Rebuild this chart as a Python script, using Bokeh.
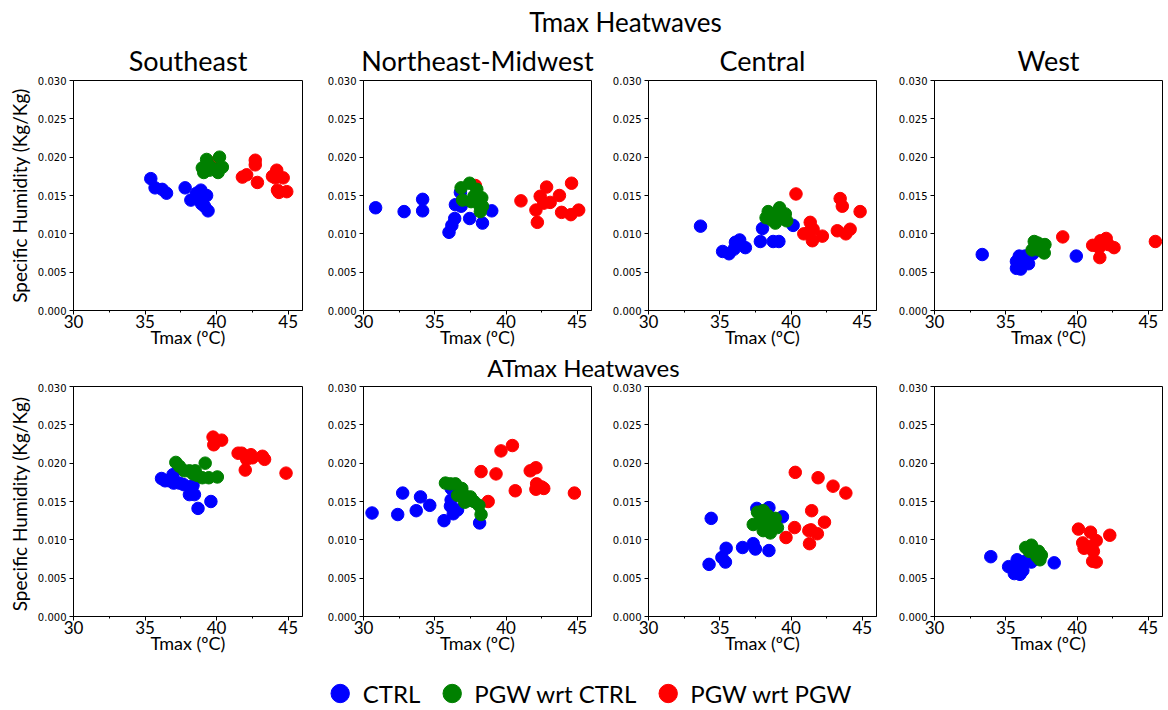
from bokeh.plotting import figure
from bokeh.layouts import column, row
from bokeh.models import Range1d, FixedTicker, PrintfTickFormatter, Legend, LegendItem
from bokeh.core.properties import value
from bokeh.embed import file_html
from bokeh.resources import INLINE

# ---------------- text / categories ----------------
regions = ["Southeast", "Northeast-Midwest", "Central", "West"]
row_titles = ["Tmax Heatwaves", "ATmax Heatwaves"]
series_labels = ["CTRL", "PGW wrt CTRL", "PGW wrt PGW"]
x_label = "Tmax (ºC)"
y_labels = ["Specific Humidity (Kg/Kg)", "Specific  Humidity (Kg/Kg)"]
x_ticks = [30, 35, 40, 45]
x_minor_ticks = [32.5, 37.5, 42.5]
y_ticks = [0.000, 0.005, 0.010, 0.015, 0.020, 0.025, 0.030]

# ---------------- Tmax heatwaves ----------------
tmax_se_ctrl_t = [35.4, 35.7, 36.2, 36.5, 37.8, 38.2, 38.6, 38.9, 38.7, 39.1, 39.3, 38.95, 39.15, 39.4]
tmax_se_ctrl_q = [0.0172, 0.0160, 0.0158, 0.0153, 0.0160, 0.0144, 0.0153, 0.0157, 0.0152, 0.0148, 0.0150, 0.0139, 0.0136, 0.0130]
tmax_se_pgwc_t = [39.3, 40.2, 39.1, 39.2, 39.5, 39.9, 40.1, 40.4, 39.0, 39.65, 39.4]
tmax_se_pgwc_q = [0.0197, 0.0200, 0.0180, 0.0188, 0.0183, 0.0184, 0.0180, 0.0187, 0.0186, 0.0186, 0.0191]
tmax_se_pgwp_t = [39.9, 41.8, 42.1, 42.7, 42.7, 42.85, 43.9, 44.2, 44.1, 44.65, 44.25, 44.35, 44.9]
tmax_se_pgwp_q = [0.0193, 0.0174, 0.0177, 0.0196, 0.0190, 0.0167, 0.0175, 0.0183, 0.0173, 0.0173, 0.0157, 0.0154, 0.0155]

tmax_ne_ctrl_t = [30.85, 32.85, 34.15, 34.15, 36.0, 36.2, 36.4, 36.45, 36.8, 36.85, 37.45, 38.35, 39.0]
tmax_ne_ctrl_q = [0.0134, 0.0129, 0.0145, 0.0130, 0.0102, 0.0111, 0.0120, 0.0138, 0.0154, 0.0136, 0.0120, 0.0114, 0.0130]
tmax_ne_pgwc_t = [36.85, 36.95, 37.45, 37.95, 37.75, 37.55, 38.0, 38.3, 38.15, 38.35, 38.2]
tmax_ne_pgwc_q = [0.0160, 0.0144, 0.0166, 0.0158, 0.0149, 0.0142, 0.0146, 0.0147, 0.0137, 0.0136, 0.0129]
tmax_ne_pgwp_t = [37.85, 41.05, 42.1, 42.2, 42.4, 42.85, 42.65, 43.1, 43.75, 43.9, 44.6, 44.55, 45.1]
tmax_ne_pgwp_q = [0.0163, 0.0143, 0.0131, 0.0115, 0.0149, 0.0161, 0.0140, 0.0141, 0.0150, 0.0128, 0.0166, 0.0125, 0.0131]

tmax_ce_ctrl_t = [33.65, 35.2, 35.65, 36.0, 36.1, 36.4, 36.8, 37.85, 38.0, 38.75, 39.15, 40.15, 38.95]
tmax_ce_ctrl_q = [0.0110, 0.0077, 0.0074, 0.0080, 0.0089, 0.0092, 0.0082, 0.0090, 0.0107, 0.0090, 0.0090, 0.0111, 0.0127]
tmax_ce_pgwc_t = [38.25, 38.4, 38.7, 38.9, 39.05, 39.2, 39.3, 39.6, 39.7, 38.65]
tmax_ce_pgwc_q = [0.0121, 0.0129, 0.0124, 0.0114, 0.0118, 0.0134, 0.0127, 0.0126, 0.0117, 0.0118]
tmax_ce_pgwp_t = [40.35, 40.9, 41.35, 41.55, 41.3, 41.5, 42.2, 43.25, 43.45, 43.6, 43.85, 44.15, 44.85]
tmax_ce_pgwp_q = [0.0152, 0.0100, 0.0115, 0.0106, 0.0103, 0.0091, 0.0097, 0.0104, 0.0146, 0.0136, 0.0100, 0.0106, 0.0129]

tmax_we_ctrl_t = [33.35, 39.95, 35.75, 35.95, 35.75, 36.05, 36.1, 36.35, 36.6, 36.55, 36.9]
tmax_we_ctrl_q = [0.0073, 0.0071, 0.0064, 0.0071, 0.0055, 0.0054, 0.0062, 0.0071, 0.0061, 0.0069, 0.0074]
tmax_we_pgwc_t = [37.0, 37.25, 36.85, 37.35, 37.7, 37.75, 37.6, 37.15]
tmax_we_pgwc_q = [0.0090, 0.0088, 0.0079, 0.0079, 0.0075, 0.0086, 0.0082, 0.0084]
tmax_we_pgwp_t = [39.0, 41.1, 41.55, 41.65, 42.05, 42.2, 42.6, 41.6, 45.5, 41.9]
tmax_we_pgwp_q = [0.0096, 0.0085, 0.0082, 0.0091, 0.0094, 0.0086, 0.0082, 0.0069, 0.0090, 0.0088]

# ---------------- ATmax heatwaves ----------------
atmax_se_ctrl_t = [36.15, 36.4, 36.95, 37.0, 37.4, 37.7, 38.35, 38.1, 38.45, 38.7, 39.6, 36.7]
atmax_se_ctrl_q = [0.0180, 0.0177, 0.0185, 0.0174, 0.0174, 0.0172, 0.0171, 0.0159, 0.0159, 0.0141, 0.0150, 0.0177]
atmax_se_pgwc_t = [37.15, 37.4, 37.75, 38.1, 38.5, 38.65, 39.0, 39.45, 39.2, 40.05, 38.35]
atmax_se_pgwc_q = [0.0201, 0.0196, 0.0190, 0.0190, 0.0190, 0.0184, 0.0181, 0.0181, 0.0200, 0.0182, 0.0186]
atmax_se_pgwp_t = [39.75, 39.8, 40.35, 41.5, 41.75, 42.1, 42.4, 42.5, 42.0, 43.2, 43.35, 44.85]
atmax_se_pgwp_q = [0.0234, 0.0224, 0.0230, 0.0213, 0.0213, 0.0205, 0.0211, 0.0207, 0.0191, 0.0209, 0.0205, 0.0187]

atmax_ne_ctrl_t = [30.6, 32.4, 32.75, 33.7, 34.0, 34.65, 35.65, 36.15, 36.15, 36.1, 36.3, 36.6, 38.15]
atmax_ne_ctrl_q = [0.0135, 0.0133, 0.0161, 0.0138, 0.0156, 0.0145, 0.0125, 0.0167, 0.0152, 0.0144, 0.0134, 0.0139, 0.0122]
atmax_ne_pgwc_t = [35.75, 36.1, 36.45, 36.6, 36.9, 36.95, 37.1, 37.5, 37.75, 38.1, 38.25, 37.3]
atmax_ne_pgwc_q = [0.0174, 0.0173, 0.0173, 0.0158, 0.0167, 0.0161, 0.0149, 0.0156, 0.0150, 0.0145, 0.0133, 0.0151]
atmax_ne_pgwp_t = [38.25, 38.75, 39.3, 39.65, 40.45, 40.65, 41.7, 42.1, 42.15, 42.1, 42.65, 44.8, 42.5]
atmax_ne_pgwp_q = [0.0189, 0.0150, 0.0186, 0.0216, 0.0223, 0.0164, 0.0190, 0.0194, 0.0173, 0.0166, 0.0167, 0.0161, 0.0169]

atmax_ce_ctrl_t = [34.4, 34.25, 35.15, 35.45, 35.4, 36.6, 37.35, 37.5, 37.6, 38.45, 38.45, 39.4]
atmax_ce_ctrl_q = [0.0128, 0.0068, 0.0077, 0.0089, 0.0071, 0.0090, 0.0095, 0.0088, 0.0141, 0.0142, 0.0086, 0.0130]
atmax_ce_pgwc_t = [37.35, 37.65, 38.05, 37.85, 38.05, 38.35, 38.35, 38.55, 38.9, 39.05, 38.45]
atmax_ce_pgwc_q = [0.0120, 0.0136, 0.0138, 0.0123, 0.0112, 0.0126, 0.0132, 0.0109, 0.0128, 0.0116, 0.0119]
atmax_ce_pgwp_t = [39.65, 40.25, 40.3, 41.3, 41.25, 41.45, 41.4, 41.85, 41.9, 42.35, 42.95, 43.85]
atmax_ce_pgwp_q = [0.0103, 0.0116, 0.0188, 0.0095, 0.0112, 0.0138, 0.0113, 0.0108, 0.0181, 0.0123, 0.0170, 0.0161]

atmax_we_ctrl_t = [33.95, 35.2, 35.6, 35.8, 36.0, 36.1, 36.2, 36.35, 36.8, 38.4, 35.5]
atmax_we_ctrl_q = [0.0078, 0.0065, 0.0056, 0.0074, 0.0055, 0.0065, 0.0060, 0.0072, 0.0071, 0.0070, 0.0064]
atmax_we_pgwc_t = [36.4, 36.8, 36.65, 37.0, 37.3, 37.4, 37.5, 37.2]
atmax_we_pgwc_q = [0.0090, 0.0093, 0.0085, 0.0083, 0.0085, 0.0074, 0.0080, 0.0078]
atmax_we_pgwp_t = [40.1, 40.4, 40.5, 40.95, 40.8, 41.15, 41.35, 41.1, 41.35, 42.3, 41.05]
atmax_we_pgwp_q = [0.0114, 0.0096, 0.0089, 0.0110, 0.0091, 0.0085, 0.0099, 0.0072, 0.0071, 0.0106, 0.0088]

panels = [
    [
        (tmax_se_ctrl_t, tmax_se_ctrl_q, tmax_se_pgwc_t, tmax_se_pgwc_q, tmax_se_pgwp_t, tmax_se_pgwp_q),
        (tmax_ne_ctrl_t, tmax_ne_ctrl_q, tmax_ne_pgwc_t, tmax_ne_pgwc_q, tmax_ne_pgwp_t, tmax_ne_pgwp_q),
        (tmax_ce_ctrl_t, tmax_ce_ctrl_q, tmax_ce_pgwc_t, tmax_ce_pgwc_q, tmax_ce_pgwp_t, tmax_ce_pgwp_q),
        (tmax_we_ctrl_t, tmax_we_ctrl_q, tmax_we_pgwc_t, tmax_we_pgwc_q, tmax_we_pgwp_t, tmax_we_pgwp_q),
    ],
    [
        (atmax_se_ctrl_t, atmax_se_ctrl_q, atmax_se_pgwc_t, atmax_se_pgwc_q, atmax_se_pgwp_t, atmax_se_pgwp_q),
        (atmax_ne_ctrl_t, atmax_ne_ctrl_q, atmax_ne_pgwc_t, atmax_ne_pgwc_q, atmax_ne_pgwp_t, atmax_ne_pgwp_q),
        (atmax_ce_ctrl_t, atmax_ce_ctrl_q, atmax_ce_pgwc_t, atmax_ce_pgwc_q, atmax_ce_pgwp_t, atmax_ce_pgwp_q),
        (atmax_we_ctrl_t, atmax_we_ctrl_q, atmax_we_pgwc_t, atmax_we_pgwc_q, atmax_we_pgwp_t, atmax_we_pgwp_q),
    ],
]

# ---------------- styling / layout ----------------
COL_CTRL, COL_PGWC, COL_PGWP = "#0000ff", "#008000", "#ff0000"
BIG_FONT = "Lato"
TICK_FONT = "DejaVu Sans"
TOTAL_W = 1168
col_widths = [324, 285, 286, 273]
col_left = [73, 38, 38, 38]
col_right = [22, 18, 19, 6]
row_heights = [316, 283]
row_top = [44, 3]
row_bottom = [42, 50]
DOT = 12.5


def make_panel(r, c):
    ct, cq, gt, gq, pt, pq = panels[r][c]
    p = figure(width=col_widths[c], height=row_heights[r],
               x_range=Range1d(30, 46), y_range=Range1d(0, 0.030),
               toolbar_location=None, output_backend="svg",
               title=regions[c] if r == 0 else None,
               min_border_left=col_left[c], min_border_right=col_right[c],
               min_border_top=row_top[r], min_border_bottom=row_bottom[r])
    p.grid.visible = False
    p.outline_line_color = "black"
    p.outline_line_alpha = 1.0
    p.outline_line_width = 1
    p.background_fill_color = "white"
    p.border_fill_color = "white"
    if r == 0:
        p.title.text_font = BIG_FONT
        p.title.text_font_size = "27px"
        p.title.text_font_style = "normal"
        p.title.text_color = "black"
        p.title.align = "center"
        p.title.standoff = 8

    xa = p.xaxis[0]
    xa.ticker = FixedTicker(ticks=x_ticks, minor_ticks=x_minor_ticks)
    xa.major_label_text_font = BIG_FONT
    xa.major_label_text_font_size = "17px"
    xa.major_label_text_color = "black"
    xa.major_tick_in = 0
    xa.major_tick_out = 4
    xa.minor_tick_in = 0
    xa.minor_tick_out = 2
    xa.major_label_standoff = 0
    xa.axis_label = x_label
    xa.axis_label_text_font = BIG_FONT
    xa.axis_label_text_font_size = "18px"
    xa.axis_label_text_font_style = "normal"
    xa.axis_label_text_color = "black"
    xa.axis_label_standoff = -5
    xa.axis_line_color = "black"
    xa.major_tick_line_color = "black"
    xa.minor_tick_line_color = "black"

    ya = p.yaxis[0]
    ya.ticker = FixedTicker(ticks=y_ticks)
    ya.formatter = PrintfTickFormatter(format="%.3f")
    ya.major_label_text_font = TICK_FONT
    ya.major_label_text_font_size = "10px"
    ya.major_label_text_color = "black"
    ya.major_tick_in = 0
    ya.major_tick_out = 4
    ya.minor_tick_line_color = None
    ya.major_label_standoff = 3
    ya.axis_line_color = "black"
    ya.major_tick_line_color = "black"
    if c == 0:
        ya.axis_label = y_labels[r]
        ya.axis_label_text_font = BIG_FONT
        ya.axis_label_text_font_size = "19px"
        ya.axis_label_text_font_style = "normal"
        ya.axis_label_text_color = "black"
        ya.axis_label_standoff = 4

    p.scatter(ct, cq, size=DOT, color=COL_CTRL, marker="circle")
    p.scatter(pt, pq, size=DOT, color=COL_PGWP, marker="circle")
    p.scatter(gt, gq, size=DOT, color=COL_PGWC, marker="circle")
    return p


def text_strip(height, label, cx, cy, size):
    s = figure(width=TOTAL_W, height=height, x_range=Range1d(0, TOTAL_W),
               y_range=Range1d(0, height), toolbar_location=None,
               output_backend="svg", x_axis_type=None, y_axis_type=None,
               min_border=0)
    s.grid.visible = False
    s.outline_line_color = None
    s.text(x=[cx], y=[cy], text=[label], text_font=value(BIG_FONT),
           text_font_size=size, text_align="center",
           text_baseline="middle", text_color="black")
    return s


header = text_strip(36, row_titles[0], 625, 15, "26px")
middle = text_strip(31, row_titles[1], 583, 16, "24px")

row1 = row(*[make_panel(0, c) for c in range(4)], spacing=0)
row2 = row(*[make_panel(1, c) for c in range(4)], spacing=0)

# legend strip: renderers hold real series data but lie outside this strip's ranges
lg = figure(width=TOTAL_W, height=44, x_range=Range1d(0, 1), y_range=Range1d(0, 1),
            toolbar_location=None, output_backend="svg",
            x_axis_type=None, y_axis_type=None, min_border=0, min_border_top=10)
lg.grid.visible = False
lg.outline_line_color = None
r_ctrl = lg.scatter(tmax_se_ctrl_t, tmax_se_ctrl_q, size=DOT, color=COL_CTRL, marker="circle")
r_pgwc = lg.scatter(tmax_se_pgwc_t, tmax_se_pgwc_q, size=DOT, color=COL_PGWC, marker="circle")
r_pgwp = lg.scatter(tmax_se_pgwp_t, tmax_se_pgwp_q, size=DOT, color=COL_PGWP, marker="circle")
legend = Legend(items=[LegendItem(label=series_labels[0], renderers=[r_ctrl]),
                       LegendItem(label=series_labels[1], renderers=[r_pgwc]),
                       LegendItem(label=series_labels[2], renderers=[r_pgwp])],
                orientation="horizontal", location="center",
                glyph_width=46, glyph_height=46, label_standoff=0, spacing=8,
                padding=0, margin=0, border_line_color=None,
                background_fill_alpha=0,
                label_text_font=BIG_FONT, label_text_font_size="24px",
                label_text_color="black")
lg.add_layout(legend, "center")

layout = column(header, row1, middle, row2, lg, spacing=0)

open("out.html", "w").write(file_html(layout, INLINE))
